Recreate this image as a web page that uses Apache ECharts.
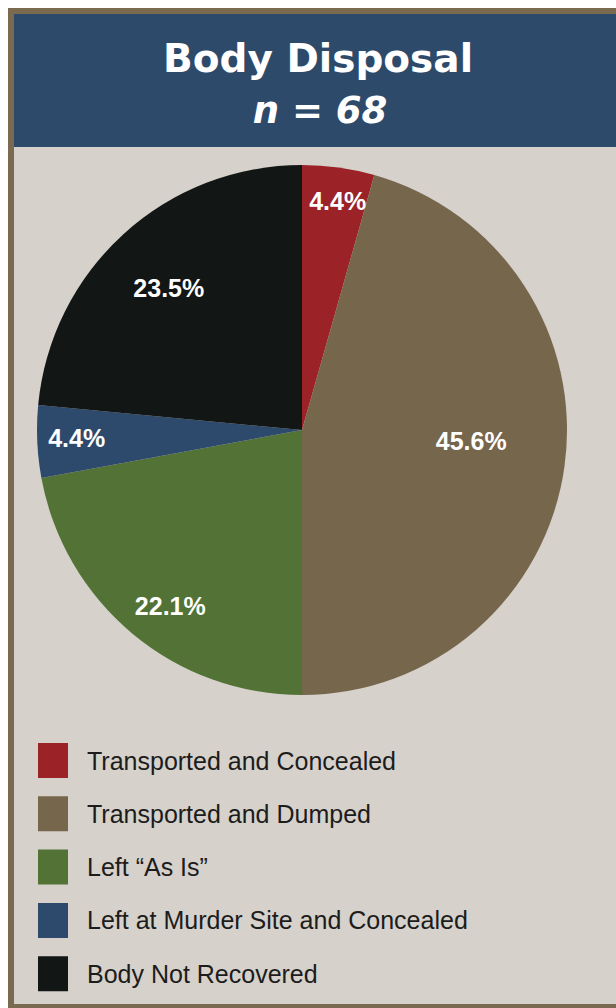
<!DOCTYPE html>
<html>
<head>
<meta charset="utf-8">
<script src="https://cdn.jsdelivr.net/npm/echarts@6/dist/echarts.min.js"></script>
<style>
html,body{margin:0;padding:0;background:#fff;}
#chart{width:616px;height:1008px;}
</style>
</head>
<body>
<div id="chart"></div>
<script>
var titleText = 'Body Disposal';
var subtitleText = 'n = 68';
var categories = ['Transported and Concealed', 'Transported and Dumped', 'Left \u201CAs Is\u201D', 'Left at Murder Site and Concealed', 'Body Not Recovered'];
var percents = [4.4, 45.6, 22.1, 4.4, 23.5];
var colors = ['#9b2227', '#76664c', '#537336', '#2d4a6c', '#121614'];
var labelOffsets = [[17, -95], [35, -8], [-45, 72], [-90, 2], [-42, -42]];

var chart = echarts.init(document.getElementById('chart'), null, {renderer: 'svg'});
var data = categories.map(function (c, i) {
  return {
    name: c,
    value: percents[i],
    itemStyle: {color: colors[i]},
    label: {offset: labelOffsets[i]}
  };
});
chart.setOption({
  animation: false,
  backgroundColor: '#ffffff',
  graphic: [
    {type: 'rect', shape: {x: 8, y: 8, width: 620, height: 1000}, style: {fill: '#7a6a50'}, z: -10},
    {type: 'rect', shape: {x: 14, y: 14, width: 614, height: 990}, style: {fill: '#d6d1cb'}, z: -9},
    {type: 'rect', shape: {x: 14, y: 14, width: 614, height: 133}, style: {fill: '#2d4a6a'}, z: -8},
    {type: 'text', x: 318, y: 58, z: 5, style: {text: titleText, fill: '#ffffff', font: 'bold 39px "DejaVu Sans"', textAlign: 'center', textVerticalAlign: 'middle'}},
    {type: 'text', x: 320, y: 110, z: 5, style: {text: subtitleText, fill: '#ffffff', font: 'italic bold 37px "DejaVu Sans"', textAlign: 'center', textVerticalAlign: 'middle'}}
  ],
  legend: {
    orient: 'vertical',
    left: 38,
    top: 743,
    padding: 0,
    itemWidth: 30,
    itemHeight: 35,
    itemGap: 18.3,
    icon: 'rect',
    selectedMode: false,
    data: categories,
    textStyle: {fontFamily: '"Liberation Sans", Arial, sans-serif', fontSize: 25, color: '#1c1c1c', padding: [0, 0, 0, 14]}
  },
  series: [{
    type: 'pie',
    center: [302, 430],
    radius: 265,
    startAngle: 90,
    clockwise: true,
    avoidLabelOverlap: false,
    silent: true,
    label: {
      show: true,
      position: 'inside',
      color: '#ffffff',
      fontFamily: '"Liberation Sans", Arial, sans-serif',
      fontWeight: 'bold',
      fontSize: 25,
      formatter: function (p) { return p.value.toFixed(1) + '%'; }
    },
    labelLine: {show: false},
    itemStyle: {borderWidth: 0},
    data: data
  }]
});
</script>
</body>
</html>
